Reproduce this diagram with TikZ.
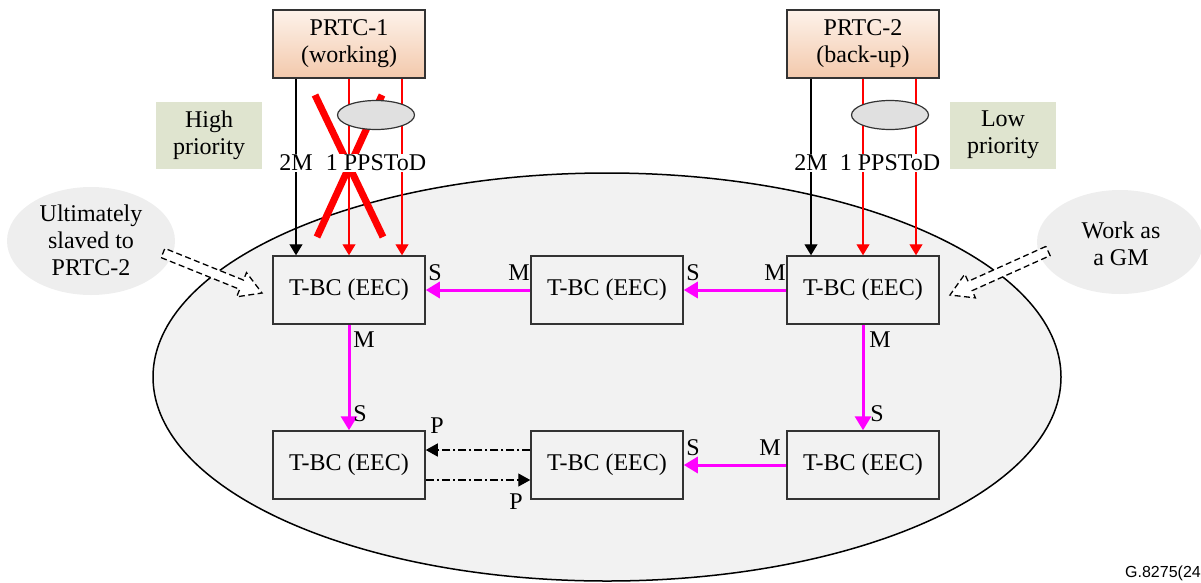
\documentclass[tikz,border=0pt]{standalone}
\usepackage{fontspec}
\setmainfont{Liberation Serif}
\newfontfamily\figsans{Liberation Sans}
\usetikzlibrary{arrows.meta,shapes.geometric,calc}
\definecolor{prtctop}{HTML}{FDF2EA}
\definecolor{prtcbot}{HTML}{F3C9AC}
\definecolor{prio}{HTML}{DFE4CF}
\definecolor{cloud}{HTML}{EEEEEE}
\definecolor{bigfill}{HTML}{F2F2F2}
\definecolor{oval}{HTML}{E0E0E0}
\definecolor{mag}{HTML}{FF00FF}
\definecolor{edge}{HTML}{333333}
\begin{document}
\begin{tikzpicture}[x=1pt,y=-1pt,
  font=\fontsize{24}{27}\selectfont,
  tbc/.style={draw=edge, line width=1.5pt, fill=bigfill, minimum width=152pt, minimum height=68pt, inner sep=0pt},
  prtc/.style={draw=edge, line width=1.5pt, top color=prtctop, bottom color=prtcbot, minimum width=152pt, minimum height=68pt, inner sep=0pt, align=center},
  prio/.style={fill=prio, minimum width=106pt, minimum height=67pt, inner sep=0pt, align=center},
  callout/.style={ellipse, fill=cloud, inner sep=0pt, align=center},
  oval/.style={ellipse, draw=edge, line width=1.2pt, fill=oval, minimum width=77pt, minimum height=29pt, inner sep=0pt},
  blk/.style={line width=1.2pt, -{Triangle[width=13pt,length=11pt]}},
  redl/.style={red, line width=1.2pt, -{Triangle[width=13pt,length=11pt]}},
  magl/.style={mag, line width=3pt, -{Triangle[width=16pt,length=14pt]}},
  dd/.style={line width=1.3pt, dash pattern=on 8pt off 3pt on 2pt off 3pt, -{Triangle[width=13pt,length=12pt]}},
  lbl/.style={inner sep=1pt},
  blockarrow/.style={draw, line width=1.3pt, dash pattern=on 6pt off 3.5pt, fill=white, line join=miter},
  cross/.style={red, line width=7pt}
]
\useasboundingbox (0,0) rectangle (1201,582);

% network ellipse
\node[ellipse, draw=black, line width=1.5pt, fill=bigfill, minimum width=908pt, minimum height=408pt, inner sep=0pt] (net) at (607,377) {};

% callouts
\node[callout, minimum width=168pt, minimum height=108pt] (c1) at (91,241) {};
\node[align=center, inner sep=0pt] (c1t) at (91,240) {Ultimately\\slaved to\\PRTC-2};
\node[callout, minimum width=166pt, minimum height=104pt] (c2) at (1120,242) {};
\node[align=center, inner sep=0pt] (c2t) at (1121,244) {Work as\\a GM};

% priority boxes
\node[prio] (hp) at (209,135) {High\\priority};
\node[prio] (lp) at (1003,135) {Low\\priority};

% PRTC boxes
\node[prtc] (p1) at (349,44) {PRTC-1\\(working)};
\node[prtc] (p2) at (863,44) {PRTC-2\\(back-up)};

% T-BC boxes
\node[tbc] (b1) at (349,290) {T-BC (EEC)};
\node[tbc] (b2) at (607,290) {T-BC (EEC)};
\node[tbc] (b3) at (863,290) {T-BC (EEC)};
\node[tbc] (b4) at (349,465) {T-BC (EEC)};
\node[tbc] (b5) at (607,465) {T-BC (EEC)};
\node[tbc] (b6) at (863,465) {T-BC (EEC)};

% PRTC feeds
\draw[blk]  ([xshift=-53pt]p1.south) -- ([xshift=-53pt]b1.north);
\draw[redl] (p1.south) -- (b1.north);
\draw[redl] ([xshift=53pt]p1.south) -- ([xshift=53pt]b1.north);
\draw[blk]  ([xshift=-52pt]p2.south) -- ([xshift=-52pt]b3.north);
\draw[redl] (p2.south) -- (b3.north);
\draw[redl] ([xshift=53pt]p2.south) -- ([xshift=53pt]b3.north);

% failure cross
\draw[cross] (315,95) -- (383,237);
\draw[cross] (382,95) -- (317,237);

% bundling ovals
\node[oval] (e1) at (376,115) {};
\node[oval] (e2) at (890,115) {};

% feed labels
\node[lbl, fill=white] (l2m1) at (296,163) {2M};
\node[lbl, fill=white] (lpp1) at (376,163) {1 PPSToD};
\node[lbl, fill=white] (l2m2) at (811,163) {2M};
\node[lbl, fill=white] (lpp2) at (890,163) {1 PPSToD};

% PTP links
\draw[magl] (b3.west) -- (b2.east);
\draw[magl] (b2.west) -- (b1.east);
\draw[magl] (b1.south) -- (b4.north);
\draw[magl] (b3.south) -- (b6.north);
\draw[magl] (b6.west) -- (b5.east);
\draw[dd] ([yshift=15pt]b5.west) -- ([yshift=15pt]b4.east);
\draw[dd] ([yshift=-15pt]b4.east) -- ([yshift=-15pt]b5.west);

% port labels
\node[lbl] (m1) at (775,273) {M};
\node[lbl] (s1) at (693,273) {S};
\node[lbl] (m2) at (519,273) {M};
\node[lbl] (s2) at (435,273) {S};
\node[lbl] (m3) at (364,340) {M};
\node[lbl] (s3) at (360,414) {S};
\node[lbl] (m4) at (880,340) {M};
\node[lbl] (s4) at (877,414) {S};
\node[lbl] (m5) at (770,448) {M};
\node[lbl] (s5) at (693,448) {S};
\node[lbl] (pa) at (437,426) {P};
\node[lbl] (pb) at (516,502) {P};

% hollow dashed arrows
\draw[blockarrow] (161.1,257.6) -- (239.7,289.3) -- (236.7,296.8) -- (262,293) -- (246.5,272.6) -- (243.5,280.1) -- (164.9,248.4) -- cycle;
\draw[blockarrow] (1045.9,246.4) -- (968.1,281.4) -- (964.8,274.1) -- (950,295) -- (975.4,297.9) -- (972.2,290.6) -- (1050.1,255.6) -- cycle;

% figure reference
\node[anchor=base east, inner sep=0pt, font=\figsans\fontsize{16}{18}\selectfont] (ref) at (1201,577) {G.8275(24};
\end{tikzpicture}
\end{document}
